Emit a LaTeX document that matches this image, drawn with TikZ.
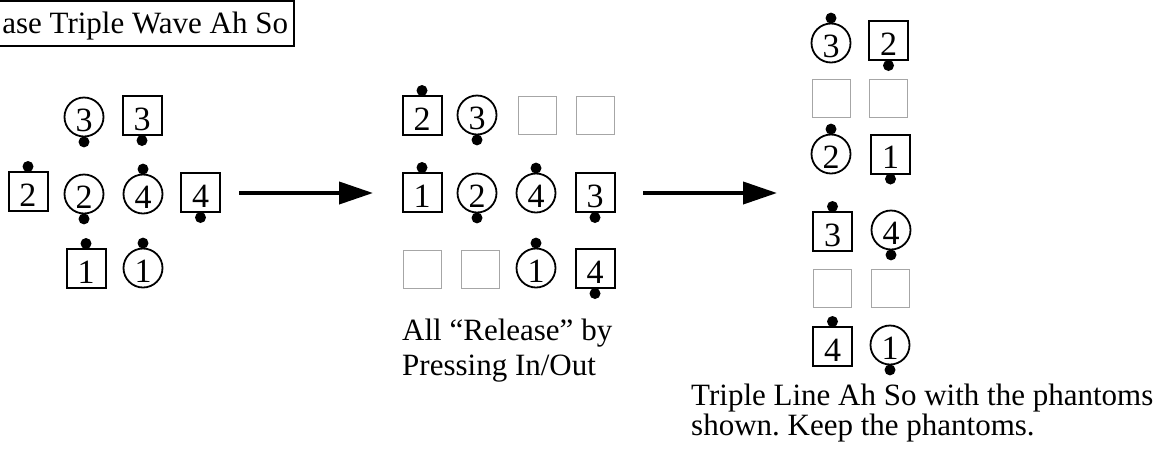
\documentclass[tikz,border=0pt]{standalone}
\usepackage{fontspec}
\setmainfont{Liberation Serif}
\usetikzlibrary{arrows.meta}
\frenchspacing
\begin{document}
\begin{tikzpicture}[x=1pt,y=-1pt,
  digit/.style={inner sep=0pt,text height=29pt,text depth=0pt,font=\fontsize{34}{34}\selectfont},
  sq/.style={draw,line width=2pt,minimum size=39pt,digit},
  ci/.style={draw,circle,line width=1.8pt,minimum size=39pt,digit},
  ph/.style={draw=black!35,line width=1pt,minimum size=38pt,inner sep=0pt},
  dot/.style={circle,fill=black,inner sep=0pt,minimum size=11pt},
  lbl/.style={anchor=base west,inner sep=0pt,font=\fontsize{31}{35}\selectfont},
  titlebox/.style={draw,line width=2pt,anchor=base east,inner xsep=6pt,inner ysep=8pt,
     text height=24pt,text depth=5pt,font=\fontsize{31}{35}\selectfont},
  bigarrow/.style={line width=4pt,-{Triangle[length=34pt,width=22pt]}}
]
\useasboundingbox (0,0) rectangle (1168,451);
\clip (0,0) rectangle (1168,451);

% title
\node[titlebox] (title) at (295,33) {ase Triple Wave Ah So};

% left formation
\node[ci] (L3c) at (84,117) {3};   \node[dot] (L3cd) at ([yshift=-4.5pt]L3c.south) {};
\node[sq] (L3s) at (142,115.5) {3}; \node[dot] (L3sd) at ([yshift=-4.5pt]L3s.south) {};
\node[sq] (L2s) at (28,191.5) {2};  \node[dot] (L2sd) at ([yshift=4.5pt]L2s.north) {};
\node[ci] (L2c) at (84,194) {2};   \node[dot] (L2cd) at ([yshift=-4.5pt]L2c.south) {};
\node[ci] (L4c) at (143,194) {4};  \node[dot] (L4cd) at ([yshift=4.5pt]L4c.north) {};
\node[sq] (L4s) at (200.5,192.5) {4}; \node[dot] (L4sd) at ([yshift=-4.5pt]L4s.south) {};
\node[sq] (L1s) at (86,268.5) {1};  \node[dot] (L1sd) at ([yshift=4.5pt]L1s.north) {};
\node[ci] (L1c) at (143,268) {1};  \node[dot] (L1cd) at ([yshift=4.5pt]L1c.north) {};

% arrow 1
\coordinate (a1s) at (239,193);
\coordinate (a1e) at (373,193);
\draw[bigarrow] (a1s) -- (a1e);

% middle formation
\node[sq] (M2s) at (422,115.5) {2}; \node[dot] (M2sd) at ([yshift=4.5pt]M2s.north) {};
\node[ci] (M3c) at (477,115) {3};   \node[dot] (M3cd) at ([yshift=-4.5pt]M3c.south) {};
\node[ph] (Mp1) at (537,115.5) {};
\node[ph] (Mp2) at (595,115.5) {};
\node[sq] (M1s) at (422,192.5) {1}; \node[dot] (M1sd) at ([yshift=4.5pt]M1s.north) {};
\node[ci] (M2c) at (477,193) {2};   \node[dot] (M2cd) at ([yshift=-4.5pt]M2c.south) {};
\node[ci] (M4c) at (536,193) {4};   \node[dot] (M4cd) at ([yshift=4.5pt]M4c.north) {};
\node[sq] (M3s) at (595,192.5) {3}; \node[dot] (M3sd) at ([yshift=-4.5pt]M3s.south) {};
\node[ph] (Mp3) at (422,269) {};
\node[ph] (Mp4) at (480,269) {};
\node[ci] (M1c) at (536,268) {1};   \node[dot] (M1cd) at ([yshift=4.5pt]M1c.north) {};
\node[sq] (M4s) at (595,268.5) {4}; \node[dot] (M4sd) at ([yshift=-4.5pt]M4s.south) {};

\node[lbl] (mt1) at (402,340) {All “Release” by};
\node[lbl] (mt2) at (402,375) {Pressing In/Out};

% arrow 2
\coordinate (a2s) at (643,193);
\coordinate (a2e) at (777,193);
\draw[bigarrow] (a2s) -- (a2e);

% right formation
\node[ci] (R3c) at (831,43) {3};    \node[dot] (R3cd) at ([yshift=4.5pt]R3c.north) {};
\node[sq] (R2s) at (888.5,40.5) {2}; \node[dot] (R2sd) at ([yshift=-4.5pt]R2s.south) {};
\node[ph] (Rp1) at (831,98) {};
\node[ph] (Rp2) at (888.5,98) {};
\node[ci] (R2c) at (831,154) {2};   \node[dot] (R2cd) at ([yshift=4.5pt]R2c.north) {};
\node[sq] (R1s) at (890.5,154) {1};  \node[dot] (R1sd) at ([yshift=-4.5pt]R1s.south) {};
\node[sq] (R3s) at (832.5,231.5) {3}; \node[dot] (R3sd) at ([yshift=4.5pt]R3s.north) {};
\node[ci] (R4c) at (891,230) {4};   \node[dot] (R4cd) at ([yshift=-4.5pt]R4c.south) {};
\node[ph] (Rp3) at (832.5,288.5) {};
\node[ph] (Rp4) at (890,288.5) {};
\node[sq] (R4s) at (832.5,346.5) {4}; \node[dot] (R4sd) at ([yshift=4.5pt]R4s.north) {};
\node[ci] (R1c) at (890,345) {1};   \node[dot] (R1cd) at ([yshift=-4.5pt]R1c.south) {};

\node[lbl] (rt1) at (691,405) {Triple Line Ah So with the phantoms};
\node[lbl] (rt2) at (691,435) {shown. Keep the phantoms.};
\end{tikzpicture}
\end{document}
